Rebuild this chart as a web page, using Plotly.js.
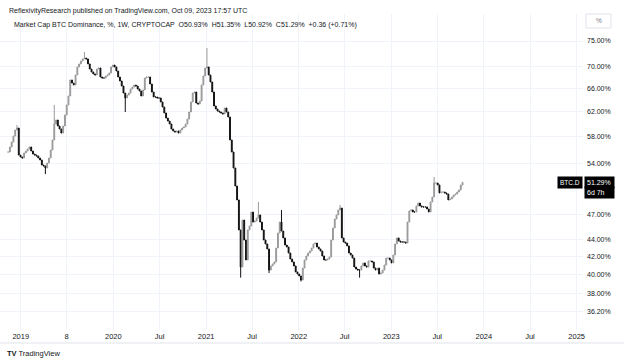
<!DOCTYPE html>
<html><head><meta charset="utf-8">
<script src="https://cdn.plot.ly/plotly-3.0.1.min.js"></script>
<style>html,body{margin:0;padding:0;background:#fff;}#chart{width:624px;height:363px;}</style>
</head><body><div id="chart"></div>
<script>
// Weekly candles, first week starting Monday 2018-11-12
const startWeek = '2018-11-12';
const closes = [
55.65,56.41,57.17,58.09,59.04,59.36,55.20,54.91,54.76,55.50,
55.80,56.11,56.41,55.80,55.35,55.20,55.06,54.76,54.47,53.74,
53.60,53.31,54.03,54.76,55.95,57.48,60.00,60.65,59.68,59.20,
58.56,59.68,61.47,63.15,64.69,67.54,66.99,66.63,68.45,69.94,
70.51,71.08,71.46,71.65,71.46,70.51,69.56,69.01,68.64,68.45,
69.56,69.75,68.08,67.90,67.90,68.27,68.45,68.82,69.94,70.31,
69.94,69.19,68.08,67.36,66.45,65.21,64.35,64.86,65.21,65.92,
66.27,66.63,66.45,65.92,65.57,64.69,65.75,67.90,68.08,68.08,
66.81,65.39,64.52,64.52,64.35,64.35,63.66,62.81,61.81,60.97,
60.48,60.00,59.20,58.88,58.72,58.88,58.56,59.04,59.36,59.52,
60.00,60.81,61.97,63.66,65.21,65.39,63.48,63.31,63.83,66.63,
68.27,69.75,69.94,68.45,67.18,65.39,62.98,62.47,62.13,61.97,
61.81,61.64,62.64,61.97,61.14,57.48,55.65,53.31,50.79,48.92,
45.13,40.85,46.35,43.93,41.63,45.13,45.62,47.36,46.10,46.23,
46.61,46.99,46.10,45.13,43.93,43.46,42.88,40.52,40.97,41.18,
41.41,42.99,44.76,46.10,45.00,44.17,43.34,43.11,42.42,41.74,
41.41,40.97,40.31,40.09,39.88,39.45,40.74,41.63,42.08,42.42,
42.65,42.99,43.46,43.57,43.11,42.88,42.65,42.08,41.63,41.63,
41.74,41.97,43.93,45.37,46.48,46.99,47.62,47.87,44.17,43.69,
43.57,43.23,42.42,42.19,41.85,40.85,40.63,40.52,40.52,40.97,
41.30,40.97,40.85,41.52,41.52,41.41,40.74,40.52,40.74,40.09,
40.20,40.52,41.07,41.85,41.85,41.63,41.30,42.19,43.46,44.17,
43.81,43.69,43.69,43.69,43.57,46.10,47.49,47.62,47.36,47.36,
48.14,48.52,48.14,48.01,48.01,48.01,47.75,47.36,48.66,49.31,
51.20,51.20,50.93,49.85,49.98,49.98,49.85,49.71,48.92,49.05,
49.31,49.58,49.71,49.98,50.25,50.93,51.29
];
// Last candle as shown in the legend
const lastOHLC = {o: 50.93, h: 51.35, l: 50.92, c: 51.29};
// Visible wick extremes (week index -> value)
const highIdx = [5, 26, 43, 112, 141, 154, 187, 240];
const highVal = [59.84, 63.15, 72.80, 73.60, 48.66, 47.62, 48.27, 52.04];
const lowIdx = [21, 66, 131, 147, 165, 198];
const lowVal = [52.45, 61.97, 39.70, 40.20, 39.30, 39.70];

const yTickVals = [36.2, 38, 40, 42, 44, 47, 54, 58, 62, 66, 70, 75];
const yTickText = ['36.20%','38.00%','40.00%','42.00%','44.00%','47.00%','54.00%','58.00%','62.00%','66.00%','70.00%','75.00%'];
const xTickVals = ['2019-01-01','2019-07-01','2020-01-01','2020-07-01','2021-01-01','2021-07-01','2022-01-01','2022-07-01','2023-01-01','2023-07-01','2024-01-01','2024-07-01','2025-01-01'];
const xTickText = ['2019','8','2020','Jul','2021','Jul','2022','Jul','2023','Jul','2024','Jul','2025'];

// build OHLC
const dates = [], open = [], high = [], low = [], close = [];
const d0 = new Date(startWeek + 'T00:00:00Z');
for (let i = 0; i < closes.length; i++) {
  const d = new Date(d0.getTime() + i * 7 * 86400000);
  dates.push(d.toISOString().slice(0, 10));
  const c = closes[i];
  const o = i === 0 ? c : closes[i - 1];
  open.push(o); close.push(c);
  high.push(Math.max(o, c)); low.push(Math.min(o, c));
}
const n = closes.length - 1;
open[n] = lastOHLC.o; high[n] = lastOHLC.h; low[n] = lastOHLC.l; close[n] = lastOHLC.c;
highIdx.forEach((k, j) => { high[k] = Math.max(high[k], highVal[j]); });
lowIdx.forEach((k, j) => { low[k] = Math.min(low[k], lowVal[j]); });

const FONT = 'Liberation Sans, Arial, sans-serif';
const trace = {
  type: 'candlestick', x: dates, open, high, low, close,
  increasing: {line: {color: '#9a9a9a', width: 1}, fillcolor: '#9a9a9a'},
  decreasing: {line: {color: '#111111', width: 1}, fillcolor: '#111111'},
  whiskerwidth: 0, hoverinfo: 'skip', showlegend: false
};
const lastY = Math.log10(lastOHLC.c);
const layout = {
  width: 624, height: 363,
  margin: {l: 0, r: 41, t: 14, b: 33},
  paper_bgcolor: '#ffffff', plot_bgcolor: '#ffffff',
  font: {family: FONT, color: '#131722', size: 7.5},
  showlegend: false,
  xaxis: {
    type: 'date', range: ['2018-10-11', '2025-01-26'],
    tickvals: xTickVals, ticktext: xTickText,
    showgrid: true, gridcolor: '#f0f3fa', gridwidth: 1,
    zeroline: false, showline: false, ticks: '',
    tickfont: {size: 7.5, color: '#131722', family: FONT},
    rangeslider: {visible: false}, fixedrange: true
  },
  yaxis: {
    type: 'log', side: 'right', range: [1.53768, 1.90658],
    tickvals: yTickVals, ticktext: yTickText,
    showgrid: true, gridcolor: '#f0f3fa', gridwidth: 1,
    zeroline: false, showline: false, ticks: '',
    ticklabelstandoff: 3,
    tickfont: {size: 7, color: '#131722', family: FONT}, fixedrange: true
  },
  shapes: [
    {type: 'line', xref: 'paper', yref: 'y', x0: 0, x1: 0.962, y0: lastY, y1: lastY,
     line: {color: '#9598a1', width: 1, dash: 'dot'}},
    {type: 'line', xref: 'paper', yref: 'paper', x0: 0, x1: 1.0703, y0: -0.0411, y1: -0.0411,
     line: {color: '#e0e3eb', width: 1}},
    {type: 'rect', xref: 'paper', yref: 'paper', x0: 1.0051, x1: 1.048, y0: 0.9557, y1: 1.0,
     line: {color: '#e0e3eb', width: 1}, fillcolor: '#ffffff'}
  ],
  annotations: [
    {xref: 'paper', yref: 'paper', x: 0.012, y: 1.0095, xanchor: 'left', yanchor: 'middle',
     text: 'ReflexivityResearch published on TradingView.com, Oct 09, 2023 17:57 UTC',
     showarrow: false, font: {size: 7, color: '#131722', family: FONT}},
    {xref: 'paper', yref: 'paper', x: 0.0206, y: 0.965, xanchor: 'left', yanchor: 'middle',
     text: 'Market Cap BTC Dominance, %, 1W, CRYPTOCAP  O50.93%  H51.35%  L50.92%  C51.29%  +0.36 (+0.71%)',
     showarrow: false, font: {size: 7, color: '#131722', family: FONT}},
    {xref: 'paper', yref: 'paper', x: 1.0266, y: 0.978, xanchor: 'center', yanchor: 'middle',
     text: '%', showarrow: false, font: {size: 6.5, color: '#787b86', family: FONT}},
    {xref: 'paper', yref: 'y', x: 1.0, y: lastY, xanchor: 'right', yanchor: 'middle',
     text: 'BTC.D', showarrow: false, bgcolor: '#000000', borderpad: 2,
     font: {size: 6.5, color: '#ffffff', family: FONT}},
    {xref: 'paper', yref: 'y', x: 1.002, y: lastY, xanchor: 'left', yanchor: 'middle',
     text: '51.29%', showarrow: false, bgcolor: '#000000', borderpad: 2, width: 25, align: 'left',
     font: {size: 7, color: '#ffffff', family: FONT}},
    {xref: 'paper', yref: 'y', x: 1.002, y: lastY, yshift: -10, xanchor: 'left', yanchor: 'middle',
     text: '6d 7h', showarrow: false, bgcolor: '#000000', borderpad: 2, width: 25, align: 'left',
     font: {size: 7, color: '#ffffff', family: FONT}},
    {xref: 'paper', yref: 'paper', x: 0.008, y: -0.0728, xanchor: 'left', yanchor: 'middle',
     text: '<b>TV</b> TradingView', showarrow: false,
     font: {size: 7.5, color: '#131722', family: FONT}}
  ]
};
Plotly.newPlot('chart', [trace], layout, {displayModeBar: false, staticPlot: true});
</script>
</body></html>
